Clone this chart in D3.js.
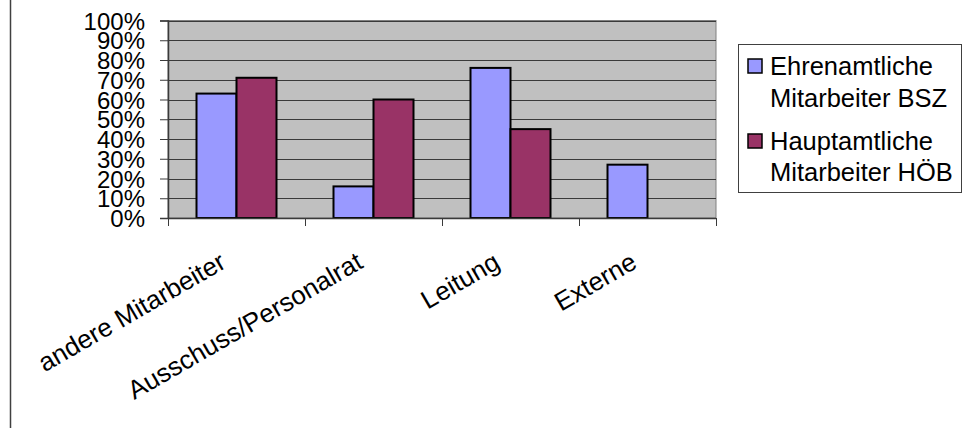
<!DOCTYPE html>
<html>
<head>
<meta charset="utf-8">
<script src="https://cdn.jsdelivr.net/npm/d3@7/dist/d3.min.js"></script>
<style>
  html, body { margin: 0; padding: 0; background: #fff; }
  svg { display: block; font-family: "Liberation Sans", Arial, sans-serif; }
</style>
</head>
<body>
<svg id="chart" width="963" height="428"></svg>
<script>
// Categories and series values (percent)
const categories = ["andere Mitarbeiter", "Ausschuss/Personalrat", "Leitung", "Externe"];
const seriesNames = ["Ehrenamtliche Mitarbeiter BSZ", "Hauptamtliche Mitarbeiter HÖB"];
const legendLines = [["Ehrenamtliche", "Mitarbeiter BSZ"], ["Hauptamtliche", "Mitarbeiter HÖB"]];
const ehrenamtlich = [63, 16, 76, 27];
const hauptamtlich = [71, 60, 45, null];
const yTicks = [0, 10, 20, 30, 40, 50, 60, 70, 80, 90, 100];
const colors = ["#9999FF", "#993366"];

const svg = d3.select("#chart");

// Plot area
const plot = { left: 168, right: 716, top: 20.5, bottom: 218 };

const x0 = d3.scaleBand()
  .domain(categories)
  .range([plot.left, plot.right])
  .paddingInner(0).paddingOuter(0);

const x1 = d3.scaleBand()
  .domain(seriesNames)
  .range([0, x0.bandwidth()])
  .paddingInner(0)
  .paddingOuter(0.7125);

const y = d3.scaleLinear().domain([0, 100]).range([plot.bottom, plot.top]);

// Outer chart frame edge
svg.append("line")
  .attr("x1", 10.5).attr("x2", 10.5)
  .attr("y1", 0).attr("y2", 428)
  .attr("stroke", "#404040").attr("stroke-width", 1.5);

// Plot background
svg.append("rect")
  .attr("x", plot.left).attr("y", plot.top)
  .attr("width", plot.right - plot.left)
  .attr("height", plot.bottom - plot.top)
  .attr("fill", "#C0C0C0")
  .attr("stroke", "#808080").attr("stroke-width", 1);

// Horizontal gridlines
svg.append("g")
  .selectAll("line")
  .data(yTicks.filter(d => d > 0))
  .join("line")
  .attr("x1", plot.left).attr("x2", plot.right)
  .attr("y1", d => Math.round(y(d)) + 0.5)
  .attr("y2", d => Math.round(y(d)) + 0.5)
  .attr("stroke", "#3a3a3a").attr("stroke-width", 1);

// Bars
const rows = categories.map((c, i) => ({ cat: c, vals: [ehrenamtlich[i], hauptamtlich[i]] }));
const groups = svg.append("g")
  .selectAll("g")
  .data(rows)
  .join("g")
  .attr("transform", d => `translate(${x0(d.cat)},0)`);

groups.selectAll("rect")
  .data(d => d.vals.map((v, k) => ({ key: seriesNames[k], v, k })).filter(e => e.v != null))
  .join("rect")
  .attr("x", d => x1(d.key))
  .attr("width", x1.bandwidth())
  .attr("y", d => y(d.v))
  .attr("height", d => y(0) - y(d.v))
  .attr("fill", d => colors[d.k])
  .attr("stroke", "#000")
  .attr("stroke-width", 2);

// Y axis
const yAxis = d3.axisLeft(y)
  .tickValues(yTicks)
  .tickFormat(d => d + "%")
  .tickSize(8)
  .tickPadding(15);

const gy = svg.append("g")
  .attr("transform", `translate(${plot.left},0)`)
  .call(yAxis);
gy.select(".domain").attr("stroke", "#3a3a3a").attr("stroke-width", 1.5);
gy.selectAll(".tick line").attr("stroke", "#3a3a3a");
gy.selectAll(".tick text")
  .attr("font-size", 24)
  .attr("font-family", "Liberation Sans, Arial, sans-serif")
  .attr("fill", "#000")
  .attr("dy", "0.36em");

// X axis: ticks between categories
const boundaries = categories.map(c => x0(c)).concat([plot.right]);
const gx = svg.append("g");
gx.append("line")
  .attr("x1", plot.left).attr("x2", plot.right)
  .attr("y1", plot.bottom + 0.5).attr("y2", plot.bottom + 0.5)
  .attr("stroke", "#3a3a3a").attr("stroke-width", 1.5);
gx.selectAll("line.tick")
  .data(boundaries)
  .join("line")
  .attr("class", "tick")
  .attr("x1", d => d + 0.5).attr("x2", d => d + 0.5)
  .attr("y1", plot.bottom).attr("y2", plot.bottom + 8)
  .attr("stroke", "#3a3a3a");

// Rotated category labels
gx.selectAll("text")
  .data(categories)
  .join("text")
  .attr("transform", d => `translate(${x0(d) + x0.bandwidth() / 2 - 9},267) rotate(-30)`)
  .attr("text-anchor", "end")
  .attr("font-size", 26)
  .attr("fill", "#000")
  .text(d => d);

// Legend
const legend = svg.append("g");
legend.append("rect")
  .attr("x", 738.5).attr("y", 44.5)
  .attr("width", 223).attr("height", 148)
  .attr("fill", "#fff")
  .attr("stroke", "#404040").attr("stroke-width", 1);

const baselines = [[75, 107], [150, 181]];
legendLines.forEach((lines, k) => {
  legend.append("rect")
    .attr("x", 748).attr("y", baselines[k][0] - 16)
    .attr("width", 14).attr("height", 14)
    .attr("fill", colors[k])
    .attr("stroke", "#000").attr("stroke-width", 1.5);
  lines.forEach((t, j) => {
    legend.append("text")
      .attr("x", 770).attr("y", baselines[k][j])
      .attr("font-size", 25.5)
      .attr("fill", "#000")
      .text(t);
  });
});
</script>
</body>
</html>
